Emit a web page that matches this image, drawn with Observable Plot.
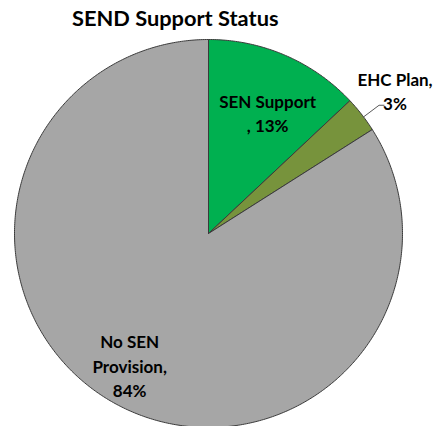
<!DOCTYPE html>
<html><head><meta charset="utf-8">
<script src="https://cdn.jsdelivr.net/npm/d3@7"></script>
<script src="https://cdn.jsdelivr.net/npm/@observablehq/plot@0.6"></script>
<style>
body{margin:0;background:#fff;font-family:Lato,"Open Sans",sans-serif;}
#wrap{position:relative;width:436px;height:426px;overflow:hidden}
#title{position:absolute;left:72px;top:4px;font-weight:bold;font-size:21.8px;color:#000;font-family:Lato,"Open Sans",sans-serif;z-index:2}
#wrap svg{position:absolute;left:0;top:0}
</style></head><body>
<div id="wrap"><div id="title">SEND Support Status</div></div>
<script>
const categories = ["SEN Support", "EHC Plan", "No SEN Provision"];
const values = [13, 3, 84];
const labelTexts = ["SEN Support\n, 13%", "EHC Plan,\n3%", "No SEN\nProvision,\n84%"];
const colors = ["#00B050", "#77933C", "#A6A6A6"];

const R = 194, CX = 208, CY = 233, W = 436, H = 426;
const arcs = d3.pie().sort(null).value(d => d)(values);

// polygon points for each slice
const pts = [];
arcs.forEach((a, i) => {
  const name = categories[i];
  pts.push({name, x: 0, y: 0});
  const n = Math.max(8, Math.ceil((a.endAngle - a.startAngle) / 0.01));
  for (let k = 0; k <= n; k++) {
    const t = a.startAngle + (a.endAngle - a.startAngle) * k / n;
    pts.push({name, x: Math.sin(t), y: Math.cos(t)});
  }
  pts.push({name, x: 0, y: 0});
});

const rf = [0.69, 1.21, 0.79];
const ddx = [6, 1, -5];
const ddy = [2, 1, -3];
const labels = arcs.map((a, i) => {
  const m = (a.startAngle + a.endAngle) / 2;
  return {text: labelTexts[i], x: rf[i] * Math.sin(m), y: rf[i] * Math.cos(m), dx: ddx[i], dy: ddy[i]};
});

const ehc = arcs[1];
const em = (ehc.startAngle + ehc.endAngle) / 2 + 0.015;
const leader = [
  {x: 1.0 * Math.sin(em), y: 1.0 * Math.cos(em)},
  {x: 1.1 * Math.sin(em), y: 1.1 * Math.cos(em)},
  {x: 1.1 * Math.sin(em) + 5 / R, y: 1.1 * Math.cos(em)}
];

const chart = Plot.plot({
  width: W, height: H, margin: 0,
  x: {domain: [-CX / R, (W - CX) / R], axis: null},
  y: {domain: [-(H - CY) / R, CY / R], axis: null},
  color: {domain: categories, range: colors},
  style: {fontFamily: "Lato, 'Open Sans', sans-serif", background: "transparent"},
  marks: [
    Plot.line(pts, {x: "x", y: "y", z: "name", fill: "name", stroke: "#3a3a3a", strokeWidth: 1, strokeLinejoin: "round"}),
    Plot.line(leader, {x: "x", y: "y", stroke: "#595959", strokeWidth: 1}),
    ...labels.map(l => Plot.text([l], {x: "x", y: "y", text: "text", dx: l.dx, dy: l.dy, fontSize: 17, fontWeight: "bold", lineHeight: 1.42, fill: "#000", textAnchor: "middle"}))
  ]
});
document.getElementById("wrap").appendChild(chart);
</script>
</body></html>
